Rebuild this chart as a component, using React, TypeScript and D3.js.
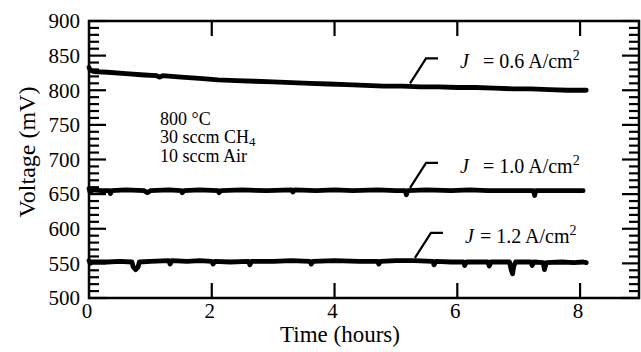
import React from "react";
import * as d3 from "d3";

// ---- data (time in hours, voltage in mV) ----
const seriesJ06: [number, number][] = [
  [0.0, 833], [0.02, 829], [0.08, 827], [0.3, 826], [0.6, 824], [0.9, 822], [1.1, 821], [1.15, 819], [1.2, 821],
  [1.5, 819], [1.8, 817], [2.1, 815], [2.4, 814], [2.7, 813], [3.0, 812], [3.3, 811], [3.6, 810], [3.9, 809],
  [4.2, 808], [4.5, 807], [4.8, 806], [5.1, 806], [5.4, 805], [5.7, 805], [6.0, 804], [6.3, 804], [6.6, 803],
  [6.9, 802], [7.2, 802], [7.5, 801], [7.8, 800], [8.0, 800], [8.1, 800],
];
const seriesJ10: [number, number][] = [
  [0.0, 658], [0.02, 652], [0.05, 656], [0.2, 655], [0.33, 655], [0.35, 651], [0.37, 655], [0.6, 656], [0.9, 655],
  [0.95, 652], [1.0, 655], [1.3, 656], [1.5, 655], [1.52, 652], [1.55, 655], [1.8, 656], [2.1, 655], [2.12, 652],
  [2.15, 655], [2.5, 656], [2.9, 655], [3.3, 656], [3.32, 653], [3.35, 656], [3.7, 655], [4.0, 656], [4.3, 655],
  [4.7, 656], [5.0, 655], [5.15, 655], [5.17, 649], [5.19, 655], [5.5, 656], [5.9, 655], [6.2, 656], [6.5, 655],
  [6.8, 655], [7.1, 655], [7.24, 655], [7.26, 648], [7.28, 655], [7.6, 655], [7.9, 655], [8.05, 655],
];
const seriesJ12: [number, number][] = [
  [0.0, 554], [0.02, 550], [0.05, 552], [0.3, 552], [0.5, 553], [0.7, 552], [0.72, 545], [0.76, 541], [0.8, 545],
  [0.82, 552], [1.0, 553], [1.3, 554], [1.32, 549], [1.35, 554], [1.6, 553], [1.8, 554], [2.0, 553], [2.02, 549],
  [2.05, 553], [2.3, 552], [2.6, 553], [2.62, 548], [2.65, 553], [3.0, 553], [3.3, 554], [3.6, 553], [3.62, 549],
  [3.65, 553], [4.0, 554], [4.4, 553], [4.7, 553], [4.72, 549], [4.75, 553], [5.0, 554], [5.3, 554], [5.6, 553],
  [5.62, 548], [5.65, 553], [5.9, 552], [6.1, 552], [6.12, 547], [6.15, 552], [6.4, 552], [6.5, 552], [6.52, 546],
  [6.55, 552], [6.85, 552], [6.88, 540], [6.9, 535], [6.92, 546], [6.95, 552], [7.2, 552], [7.22, 547], [7.25, 552],
  [7.4, 551], [7.42, 541], [7.45, 551], [7.7, 552], [7.9, 551], [8.05, 552], [8.1, 551],
];

const xTicks = [0, 2, 4, 6, 8];
const yTicks = [500, 550, 600, 650, 700, 750, 800, 850, 900];
const yMinorTicks = d3.range(500, 901, 10);

const labelValues = ["0.6", "1.0", "1.2"];
const labelAnchors: [number, number][] = [[5.23, 810], [5.23, 659], [5.31, 558]];
const conditions = ["800 °C", "30 sccm CH", "10 sccm Air"];

const W = 641, H = 352;
const M = { left: 89, right: 639, top: 21, bottom: 298 };
const FONT = "Liberation Serif, Times New Roman, DejaVu Serif, serif";

export default function App() {
  const x = d3.scaleLinear().domain([0, 8.96]).range([M.left, M.right]);
  const y = d3.scaleLinear().domain([500, 900]).range([M.bottom, M.top]);
  const line = d3.line<[number, number]>().x(d => x(d[0])).y(d => y(d[1]));
  const series = [seriesJ06, seriesJ10, seriesJ12];
  const condSize = 18;
  const condStep = 18.3;

  return (
    <svg width={W} height={H} style={{ position: "absolute", left: 0, top: 0, background: "#fff", fontFamily: FONT }}>
      {/* data lines */}
      {series.map((s, i) => (
        <path key={i} d={line(s) || ""} fill="none" stroke="#000" strokeWidth={4.8} strokeLinejoin="round" strokeLinecap="round" />
      ))}

      {/* frame */}
      <rect x={M.left} y={M.top} width={M.right - M.left} height={M.bottom - M.top} fill="none" stroke="#000" strokeWidth={2.5} />

      {/* y ticks left & right */}
      {yMinorTicks.map(v => {
        const major = v % 50 === 0;
        const len = major ? 17 : 10;
        return (
          <g key={"yt" + v}>
            <line x1={M.left} x2={M.left + len} y1={y(v)} y2={y(v)} stroke="#000" strokeWidth={2.2} />
            <line x1={M.right} x2={M.right - len} y1={y(v)} y2={y(v)} stroke="#000" strokeWidth={2.2} />
          </g>
        );
      })}
      {/* x ticks top & bottom */}
      {xTicks.filter(t => t > 0).map(t => (
        <g key={"xt" + t}>
          <line x1={x(t)} x2={x(t)} y1={M.bottom} y2={M.bottom - 15} stroke="#000" strokeWidth={2.2} />
          <line x1={x(t)} x2={x(t)} y1={M.top} y2={M.top + 15} stroke="#000" strokeWidth={2.2} />
        </g>
      ))}

      {/* tick labels */}
      {yTicks.map(v => (
        <text key={"yl" + v} x={80} y={y(v)} dy="0.35em" textAnchor="end" fontSize={21}>{v}</text>
      ))}
      {xTicks.map(t => (
        <text key={"xl" + t} x={x(t) - 2} y={318} textAnchor="middle" fontSize={21}>{t}</text>
      ))}

      {/* axis titles */}
      <text x={340} y={342} textAnchor="middle" fontSize={23}>Time (hours)</text>
      <text transform="translate(35,152) rotate(-90)" textAnchor="middle" fontSize={24}>Voltage (mV)</text>

      {/* conditions */}
      {conditions.map((c, i) => (
        <text key={"c" + i} x={160} y={125 + i * condStep} fontSize={condSize}>
          {c}
          {i === 1 && <tspan dy={3} fontSize={13}>4</tspan>}
        </text>
      ))}

      {/* current density labels */}
      {labelValues.map((lv, i) => {
        const ax = x(labelAnchors[i][0]);
        const ay = y(labelAnchors[i][1]);
        const tx = ax + 16, ty = ay - 25;
        const eqX = i === 2 ? 475 - 410 : 483 - 410;
        return (
          <g key={"lab" + i}>
            <polyline points={`${ax},${ay} ${tx},${ty} ${tx + 12},${ty}`} fill="none" stroke="#000" strokeWidth={2.2} />
            <text x={ax + 50} y={ty + 10} fontSize={20} fontStyle="italic">J</text>
            <text x={ax + eqX} y={ty + 10} fontSize={20}>
              {"= " + lv + " A/cm"}
              <tspan dy={-8} fontSize={14}>2</tspan>
            </text>
          </g>
        );
      })}
    </svg>
  );
}
